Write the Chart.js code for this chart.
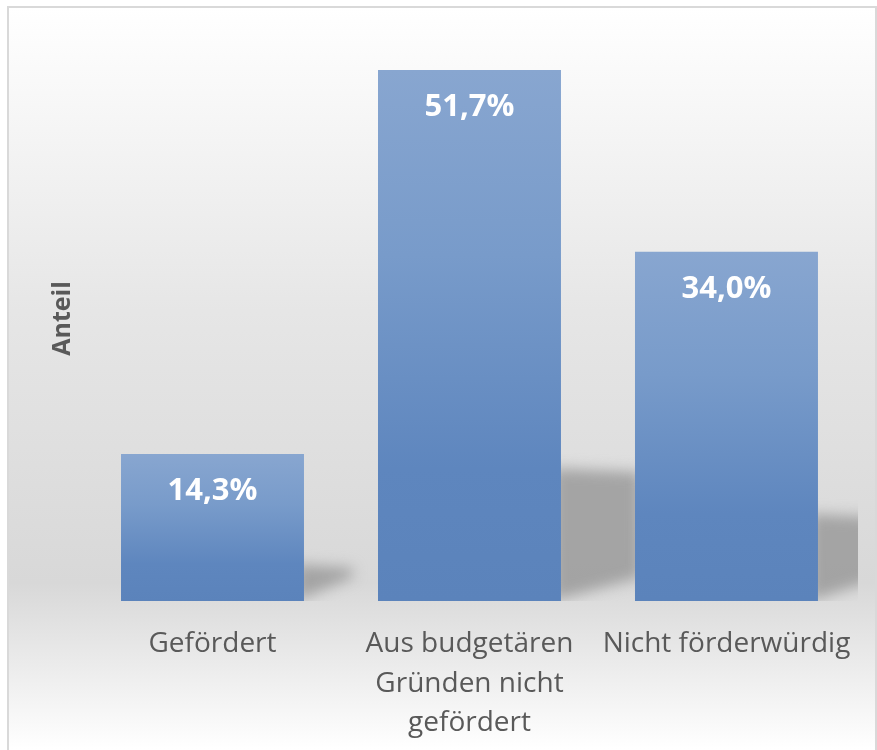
<!DOCTYPE html>
<html>
<head>
<meta charset="utf-8">
<script src="https://cdn.jsdelivr.net/npm/chart.js@4"></script>
<style>
  html, body { margin: 0; padding: 0; background: #fff; overflow: hidden; }
  #frame {
    position: absolute; left: 7px; top: 6px; width: 870px; height: 760px;
    box-sizing: border-box; border: 2px solid #d9d9d9;
    background: linear-gradient(to bottom, #ffffff 0%, #e6e6e6 40%, #d8d8d8 76%, #ffffff 98%);
  }
  #wrap { position: absolute; left: 0; top: 0; width: 877px; height: 750px; }
</style>
</head>
<body>
<div id="frame"></div>
<div id="wrap"><canvas id="c" width="877" height="750"></canvas></div>
<script>
  // Werte aus der Abbildung
  const categories = [
    "Gefördert",
    ["Aus budgetären", "Gründen nicht", "gefördert"],
    "Nicht förderwürdig"
  ];
  const shares = [14.3, 51.7, 34.0];
  const shareLabels = ["14,3%", "51,7%", "34,0%"];
  const axisTitle = "Anteil";

  function barFill(context){
    const chart = context.chart;
    const {ctx, chartArea, scales} = chart;
    if(!chartArea) return "#6a8fc3";
    const v = shares[context.dataIndex];
    const top = scales.y.getPixelForValue(v);
    const base = scales.y.getPixelForValue(0);
    const g = ctx.createLinearGradient(0, top, 0, base);
    g.addColorStop(0, "#88a6d0");
    g.addColorStop(0.35, "#789bca");
    g.addColorStop(0.75, "#5e86be");
    g.addColorStop(1, "#5b83bb");
    return g;
  }

  const shadows = {
    id: "shadows",
    beforeDatasetsDraw(chart){
      const {ctx, chartArea} = chart;
      const meta = chart.getDatasetMeta(0);
      ctx.save();
      ctx.beginPath();
      ctx.rect(chartArea.left, chartArea.top, chartArea.right - chartArea.left + 3, chartArea.bottom - chartArea.top);
      ctx.clip();
      ctx.filter = "blur(7px)";
      ctx.fillStyle = "rgba(150,150,150,0.8)";
      meta.data.forEach(bar => {
        const p = bar.getProps(["x", "y", "base", "width"], true);
        const r = p.x + p.width / 2 - 8;
        const h = p.base - p.y;
        const dx = 45 + 0.08 * h;
        ctx.beginPath();
        ctx.moveTo(r, p.base);
        ctx.lineTo(r, p.base - 0.25 * h);
        ctx.lineTo(r + dx, p.base - 0.25 * h + 4);
        ctx.lineTo(r + dx, p.base - 24);
        ctx.closePath();
        ctx.fill();
      });
      ctx.restore();
    }
  };

  const valueLabels = {
    id: "valueLabels",
    afterDatasetsDraw(chart){
      const {ctx} = chart;
      const meta = chart.getDatasetMeta(0);
      ctx.save();
      ctx.fillStyle = "#ffffff";
      ctx.font = "bold 31px 'Open Sans'";
      ctx.textAlign = "center";
      ctx.textBaseline = "middle";
      meta.data.forEach((bar, i) => {
        ctx.fillText(shareLabels[i], bar.x, bar.y + 37);
      });
      ctx.restore();
    }
  };

  new Chart(document.getElementById("c").getContext("2d"), {
    type: "bar",
    data: {
      labels: categories,
      datasets: [{
        data: shares,
        backgroundColor: barFill,
        borderWidth: 0,
        categoryPercentage: 1,
        barPercentage: 0.712
      }]
    },
    options: {
      responsive: false, animation: false,
      layout: { padding: { left: 0, right: 22, top: 36, bottom: 0 } },
      plugins: { legend: { display: false }, tooltip: { enabled: false } },
      scales: {
        x: {
          grid: { display: false, drawTicks: false },
          border: { display: false },
          ticks: { color: "#595959", font: { family: "'Open Sans'", size: 28, lineHeight: 1.42 }, padding: 23, maxRotation: 0, autoSkip: false },
          afterFit(s){ s.height = 149; }
        },
        y: {
          min: 0, max: 55,
          grid: { display: false, drawTicks: false },
          border: { display: false },
          ticks: { display: false },
          title: { display: true, text: axisTitle, color: "#595959", font: { family: "'Open Sans'", size: 25, weight: "bold" }, padding: { top: 48, bottom: 0 } },
          afterFit(s){ s.width = 84; }
        }
      }
    },
    plugins: [shadows, valueLabels]
  });
</script>
</body>
</html>
